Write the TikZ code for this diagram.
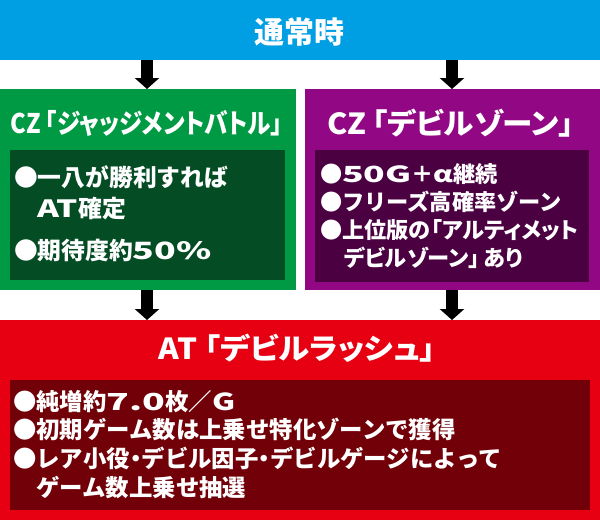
\documentclass[tikz,border=0pt]{standalone}
\usepackage{fontspec}
\usepackage{graphicx}
\usetikzlibrary{arrows.meta}
\newfontfamily\jp{Noto Sans CJK JP}
\newfontfamily\jpp{Noto Sans CJK JP}[RawFeature=+palt]
\definecolor{cblue}{RGB}{0,158,226}
\definecolor{cgreen}{RGB}{0,153,68}
\definecolor{cgreendk}{RGB}{4,76,36}
\definecolor{cpurple}{RGB}{146,7,131}
\definecolor{cpurpledk}{RGB}{75,0,66}
\definecolor{cred}{RGB}{230,0,18}
\definecolor{creddk}{RGB}{114,0,8}
\newcommand\nd{\kern-0.25em・\kern-0.25em}
\newcommand\wide[2][1.5]{\scalebox{#1}[1]{#2}}
\begin{document}
\begin{tikzpicture}[x=1pt,y=-1pt,
  every node/.style={inner sep=0pt,outer sep=0pt},
  panel/.style={rectangle,fill=#1,draw=none,anchor=north west},
  fatarrow/.style={draw=black,line width=11.5pt,line cap=butt,-{Triangle[width=24pt,length=11pt]}},
  ttl/.style={text=white,anchor=base},
  body/.style={text=white,anchor=base west}]
\useasboundingbox (0,0) rectangle (600,520);
% panels
\node[panel=cblue,minimum width=600pt,minimum height=60pt] (normal) at (0,0) {};
\node[panel=cgreen,minimum width=296pt,minimum height=201pt] (cz1) at (0,89) {};
\node[panel=cpurple,minimum width=295pt,minimum height=201pt] (cz2) at (305,89) {};
\node[panel=cred,minimum width=600pt,minimum height=200pt] (at) at (0,320) {};
\node[panel=cgreendk,minimum width=275pt,minimum height=130pt] (cz1in) at (10,150) {};
\node[panel=cpurpledk,minimum width=274pt,minimum height=132pt] (cz2in) at (315,150) {};
\node[panel=creddk,minimum width=580pt,minimum height=130pt] (atin) at (10,380) {};
% arrows
\coordinate (xl) at (147,0);
\coordinate (xr) at (452,0);
\draw[fatarrow] (normal.south -| xl) -- (cz1.north -| xl);
\draw[fatarrow] (normal.south -| xr) -- (cz2.north -| xr);
\draw[fatarrow] (cz1.south -| xl) -- (at.north -| xl);
\draw[fatarrow] (cz2.south -| xr) -- (at.north -| xr);
% titles
\node[ttl,font={\jpp\bfseries\fontsize{30}{30}\selectfont}] (normalT) at (299,43) {通常時};
\node[ttl,font={\jpp\bfseries\fontsize{27}{27}\selectfont}] (cz1T) at (147,133) {\resizebox{272pt}{\height}{CZ\hspace{5pt}「ジャッジメントバトル」}};
\node[ttl,font={\jpp\bfseries\fontsize{29}{29}\selectfont}] (cz2T) at (450.5,134.5) {\resizebox{247pt}{\height}{CZ\hspace{6pt}「デビルゾーン」}};
\node[ttl,font={\jpp\bfseries\fontsize{29}{29}\selectfont}] (atT) at (297.5,359.5) {\resizebox{277pt}{\height}{AT\hspace{7pt}「デビルラッシュ」}};
% green body
\begin{scope}[every node/.append style={font={\jp\bfseries\fontsize{23.8}{28}\selectfont}}]
\node[body] (g1) at (14,186) {●一八が勝利すれば};
\node[body] (g2) at (37.8,217) {\wide[1.4]{AT}確定};
\node[body] (g3) at (14,259) {●期待度約\wide[1.5]{50\%}};
\end{scope}
% purple body
\begin{scope}[every node/.append style={font={\jp\bfseries\fontsize{22.2}{28}\selectfont}}]
\node[body] (p1) at (320,182.6) {●\wide[1.6]{50G}＋\wide[1.3]{α}継続};
\node[body] (p2) at (320,210.6) {●フリーズ高確率ゾーン};
\node[body] (p3) at (320,238.6) {●上位版の{\jpp 「アルティメット}};
\node[body,font={\jpp\bfseries\fontsize{22.2}{28}\selectfont}] (p4) at (344,266.6) {デビルゾーン」\hspace{4pt}あり};
\end{scope}
% red body
\begin{scope}[every node/.append style={font={\jp\bfseries\fontsize{23.4}{28}\selectfont}}]
\node[body] (r1) at (13,410) {●純増約\wide[1.6]{7.0}枚／\wide[1.35]{G}};
\node[body] (r2) at (13,438) {●初期ゲーム数は上乗せ特化ゾーンで獲得};
\node[body] (r3) at (13,467) {●レア小役\nd デビル因子\nd デビルゲージによって};
\node[body] (r4) at (36.4,496) {ゲーム数上乗せ抽選};
\end{scope}
\end{tikzpicture}
\end{document}
